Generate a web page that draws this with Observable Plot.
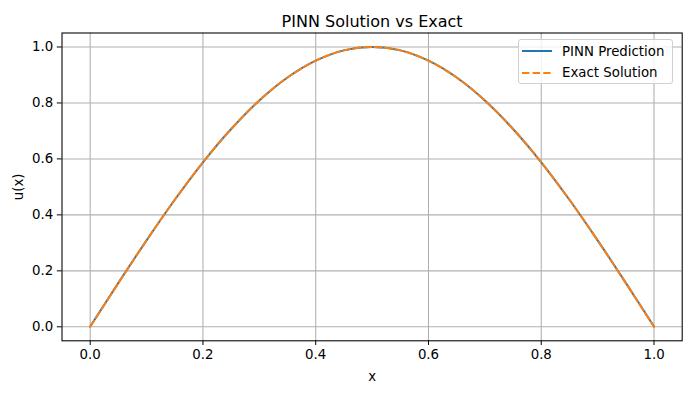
<!DOCTYPE html>
<html>
<head>
<meta charset="utf-8">
<script src="https://cdn.jsdelivr.net/npm/d3@7"></script>
<script src="https://cdn.jsdelivr.net/npm/@observablehq/plot@0.6"></script>
<style>
  html, body { margin: 0; padding: 0; background: #fff; }
  #wrap { position: relative; width: 691px; height: 393px; font-family: "DejaVu Sans", sans-serif; }
  #legend { position: absolute; left: 518px; top: 39px; width: 155px; height: 45px; box-sizing: border-box;
    border: 1px solid #d0d0d0; border-radius: 3px; background: rgba(255,255,255,0.8); font-size: 13.33px; color: #000; }
  .row { position: absolute; left: 0; height: 16px; display: flex; align-items: center; }
  .row svg { margin-left: 3px; }
  .row span { position: absolute; left: 43px; white-space: nowrap; }
</style>
</head>
<body>
<div id="wrap"></div>
<script>
const title = "PINN Solution vs Exact";
const xLabel = "x";
const yLabel = "u(x)";
const seriesNames = ["PINN Prediction", "Exact Solution"];
const seriesColors = ["#1f77b4", "#ff7f0e"];
const xTicks = [0, 0.2, 0.4, 0.6, 0.8, 1.0];
const yTicks = [0, 0.2, 0.4, 0.6, 0.8, 1.0];

const xs = [0, 0.05, 0.1, 0.15, 0.2, 0.25, 0.3, 0.35, 0.4, 0.45, 0.5, 0.55, 0.6, 0.65, 0.7, 0.75, 0.8, 0.85, 0.9, 0.95, 1.0];
const pinn = [0.001, 0.157, 0.309, 0.454, 0.588, 0.707, 0.809, 0.891, 0.951, 0.988, 1.000, 0.988, 0.951, 0.891, 0.809, 0.707, 0.588, 0.454, 0.309, 0.157, 0.001];
const exact = [0, 0.156, 0.309, 0.454, 0.588, 0.707, 0.809, 0.891, 0.951, 0.988, 1.000, 0.988, 0.951, 0.891, 0.809, 0.707, 0.588, 0.454, 0.309, 0.156, 0];

const pinnData = xs.map((x, i) => ({x, y: pinn[i]}));
const exactData = xs.map((x, i) => ({x, y: exact[i]}));

const chart = Plot.plot({
  width: 691,
  height: 393,
  marginLeft: 61.5,
  marginRight: 9.3,
  marginTop: 32.5,
  marginBottom: 52.7,
  style: { fontFamily: "DejaVu Sans, sans-serif", fontSize: "13.33px", background: "#fff", color: "#000", overflow: "visible" },
  x: { domain: [-0.05, 1.05], ticks: xTicks, tickFormat: d3.format(".1f"), label: xLabel },
  y: { domain: [-0.05, 1.05], ticks: yTicks, tickFormat: d3.format(".1f"), label: yLabel },
  marks: [
    Plot.gridX(xTicks, { stroke: "#b0b0b0", strokeOpacity: 1, strokeWidth: 1.07 }),
    Plot.gridY(yTicks, { stroke: "#b0b0b0", strokeOpacity: 1, strokeWidth: 1.07 }),
    Plot.line(pinnData, { x: "x", y: "y", stroke: seriesColors[0], strokeWidth: 2, curve: "catmull-rom" }),
    Plot.line(exactData, { x: "x", y: "y", stroke: seriesColors[1], strokeWidth: 2, strokeDasharray: "7.4,3.2", curve: "catmull-rom" }),
    Plot.frame({ stroke: "#000", strokeWidth: 1.07 }),
    Plot.axisX(xTicks, { tickSize: 4.7, tickPadding: 4, fontSize: 13.33, stroke: "#000", fill: "#000", label: xLabel, labelAnchor: "center", labelOffset: 40, labelArrow: "none" }),
    Plot.axisY(yTicks, { tickSize: 4.7, tickPadding: 4, fontSize: 13.33, stroke: "#000", fill: "#000", label: yLabel, labelAnchor: "center", labelOffset: 48, labelArrow: "none" }),
    Plot.text([title], { text: d => d, frameAnchor: "top", lineAnchor: "bottom", dy: -6, fontSize: 16, fill: "#000" })
  ]
});

const wrap = document.getElementById("wrap");
wrap.appendChild(chart);

const legend = document.createElement("div");
legend.id = "legend";
seriesNames.forEach((name, i) => {
  const row = document.createElement("div");
  row.className = "row";
  row.style.top = (i === 0 ? 3 : 24.5) + "px";
  const dash = i === 1 ? 'stroke-dasharray="7.4,3.2"' : "";
  row.innerHTML = `<svg width="32" height="16"><line x1="0" x2="30" y1="8" y2="8" stroke="${seriesColors[i]}" stroke-width="2" ${dash}/></svg><span>${name}</span>`;
  legend.appendChild(row);
});
wrap.appendChild(legend);
</script>
</body>
</html>
